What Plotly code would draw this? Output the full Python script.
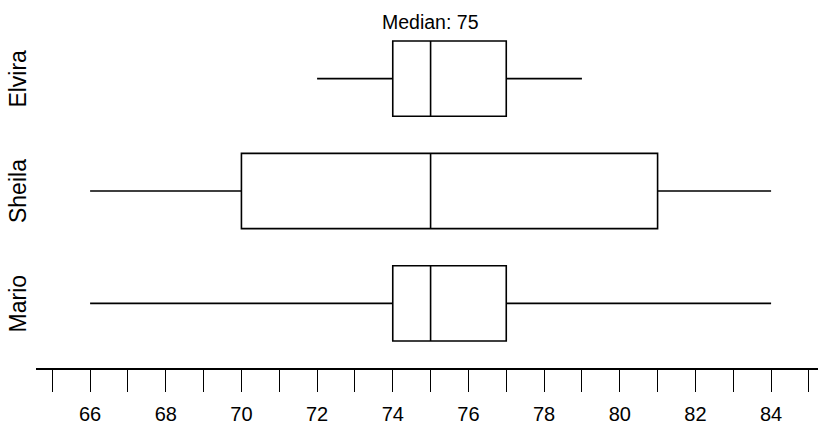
import plotly.graph_objects as go

names = ["Mario", "Sheila", "Elvira"]
lower = [66, 66, 72]
q1 = [74, 70, 74]
median = [75, 75, 75]
q3 = [77, 81, 77]
upper = [84, 84, 79]

tick_vals = list(range(65, 86))
tick_text = [str(v) if v % 2 == 0 else "" for v in tick_vals]
title_text = "Median: 75"

font = "Liberation Sans, Arial, sans-serif"

fig = go.Figure()
for i, n in enumerate(names):
    fig.add_trace(go.Box(
        y=[i], q1=[q1[i]], median=[median[i]], q3=[q3[i]],
        lowerfence=[lower[i]], upperfence=[upper[i]],
        orientation="h", name=n, width=0.67, whiskerwidth=0,
        fillcolor="white", line=dict(color="black", width=1.6),
        boxpoints=False, hoverinfo="skip",
    ))
    fig.add_annotation(x=-0.023, y=i, xref="paper", yref="y", text=n,
                       textangle=-90, showarrow=False, xanchor="center",
                       yanchor="middle",
                       font=dict(family=font, size=23, color="black"))

fig.add_annotation(x=75, y=2.5, xref="x", yref="y", text=title_text,
                   showarrow=False, yanchor="middle",
                   font=dict(family=font, size=19.5, color="black"))

fig.update_layout(
    width=818, height=425,
    margin=dict(l=36, r=0, t=5, b=55),
    paper_bgcolor="white", plot_bgcolor="white",
    showlegend=False,
    font=dict(family=font, size=16, color="black"),
    xaxis=dict(range=[64.57, 85.24], tickmode="array", tickvals=tick_vals,
               ticktext=tick_text, ticks="outside", ticklen=22, tickwidth=1.3,
               tickcolor="black", showline=True, linecolor="black", linewidth=1.5,
               showgrid=False, zeroline=False, ticklabelstandoff=5,
               tickfont=dict(family=font, size=20, color="black")),
    yaxis=dict(range=[-0.575, 2.655], showticklabels=False, showline=False,
               ticks="", showgrid=False, zeroline=False),
)

fig.write_html("out.html", config={"displayModeBar": False},
               post_script="document.body.style.margin='0px';")
